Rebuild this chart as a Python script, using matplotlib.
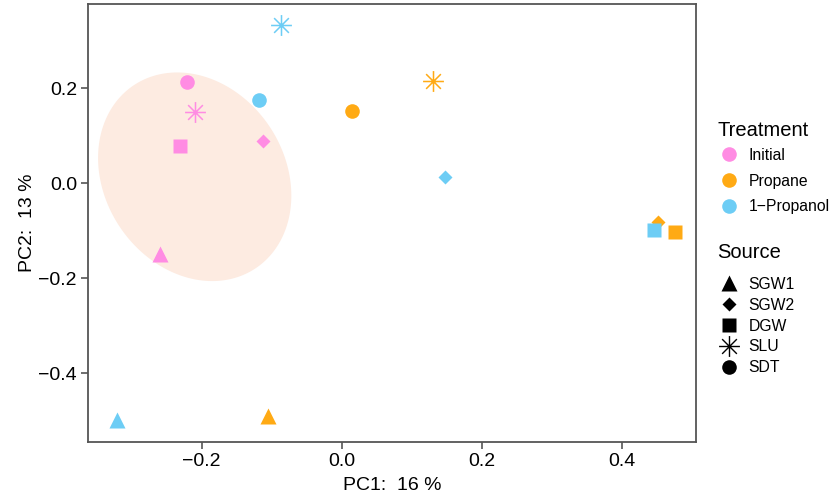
import numpy as np
import matplotlib
matplotlib.use("Agg")
import matplotlib.pyplot as plt
from matplotlib.path import Path
from matplotlib.lines import Line2D

plt.rcParams['font.family'] = ['Liberation Sans', 'DejaVu Sans']

# ---- data ----
treatments = ["Initial", "Propane", "1\u2212Propanol"]
sources = ["SGW1", "SGW2", "DGW", "SLU", "SDT"]

sample_treatment = ["Initial"] * 5 + ["Propane"] * 5 + ["1\u2212Propanol"] * 5
sample_source = ["SDT", "SLU", "DGW", "SGW2", "SGW1",
                 "SLU", "SDT", "SGW2", "DGW", "SGW1",
                 "SLU", "SDT", "SGW2", "DGW", "SGW1"]
pc1 = [-0.221, -0.209, -0.231, -0.112, -0.259,
       0.131, 0.015, 0.452, 0.476, -0.105,
       -0.087, -0.118, 0.148, 0.446, -0.321]
pc2 = [0.212, 0.149, 0.079, 0.088, -0.148,
       0.214, 0.152, -0.081, -0.102, -0.490,
       0.333, 0.175, 0.012, -0.098, -0.498]

# ellipse (stat_ellipse-like region), centre / semi-axes along x,y / phase
ell_center = (-0.21, 0.0135)
ell_ax = (0.138, 0.2195)
ell_cosphi = -0.181

# ---- styles ----
colors = {"Initial": "#FF8CE3", "Propane": "#FFAA14", "1\u2212Propanol": "#6DCDF5"}

ast_verts, ast_codes = [], []
for ang in np.deg2rad([0, 45, 90, 135]):
    ast_verts += [(-np.cos(ang), -np.sin(ang)), (np.cos(ang), np.sin(ang))]
    ast_codes += [Path.MOVETO, Path.LINETO]
asterisk = Path(ast_verts, ast_codes)

shapes = {"SGW1": dict(marker="^", ms=12),
          "SGW2": dict(marker="D", ms=7.5),
          "DGW": dict(marker="s", ms=10),
          "SLU": dict(marker=asterisk, ms=15),
          "SDT": dict(marker="o", ms=10.5)}

fig = plt.figure(figsize=(8.36, 4.98), dpi=100)
ax = fig.add_axes([88 / 836, 1 - 441.5 / 498, (696 - 88) / 836, (441.5 - 4.5) / 498])

# ellipse
t = np.linspace(0, 2 * np.pi, 400)
phi = np.arccos(ell_cosphi)
ex = ell_center[0] + ell_ax[0] * np.cos(t)
ey = ell_center[1] + ell_ax[1] * np.cos(t + phi)
ax.fill(ex, ey, color="#FDEBE1", lw=0, zorder=1)

for x, y, tr, so in zip(pc1, pc2, sample_treatment, sample_source):
    st = shapes[so]
    c = colors[tr]
    if so == "SLU":
        ax.plot([x], [y], linestyle="none", marker=st["marker"], ms=st["ms"],
                mec=c, mfc="none", mew=1.1, zorder=3)
    else:
        ax.plot([x], [y], linestyle="none", marker=st["marker"], ms=st["ms"],
                mec="none", mfc=c, zorder=3)

ax.set_xlim(-0.3624, 0.506)
ax.set_ylim(-0.5436, 0.376)
ax.set_xticks([-0.2, 0.0, 0.2, 0.4])
ax.set_yticks([-0.4, -0.2, 0.0, 0.2])
fmt = matplotlib.ticker.FuncFormatter(lambda v, p: f"{v:.1f}".replace("-", "\u2212"))
ax.xaxis.set_major_formatter(fmt)
ax.yaxis.set_major_formatter(fmt)
for sp in ax.spines.values():
    sp.set_color("#555555")
    sp.set_linewidth(1.3)
ax.tick_params(axis="both", colors="#555555", length=5, width=1.2, labelsize=14,
               labelcolor="black", pad=3)
ax.set_xlabel("PC1:  16 %", fontsize=14, labelpad=5)
ax.set_ylabel("PC2:  13 %", fontsize=14, labelpad=1.5)

# legends
legx = 720 / 836
fig.text(717 / 836, 1 - 130 / 498, "Treatment", fontsize=14.5, ha="left", va="center")
h1 = [Line2D([], [], linestyle="none", marker="o", ms=10.5, mfc=colors[tname], mec="none")
      for tname in treatments]
leg1 = fig.legend(h1, treatments, loc="center left",
                  bbox_to_anchor=(legx, 1 - 181 / 498), frameon=False,
                  fontsize=11.3, labelspacing=0.68,
                  handlelength=1.2, handletextpad=0.6,
                  borderaxespad=0, borderpad=0)

fig.text(717 / 836, 1 - 253 / 498, "Source", fontsize=14.5, ha="left", va="center")
h2 = []
for so in sources:
    st = shapes[so]
    if so == "SLU":
        h2.append(Line2D([], [], linestyle="none", marker=st["marker"], ms=st["ms"],
                         mec="black", mfc="none", mew=1.0))
    else:
        h2.append(Line2D([], [], linestyle="none", marker=st["marker"], ms=st["ms"],
                         mfc="black", mec="none"))
leg2 = fig.legend(h2, sources, loc="center left",
                  bbox_to_anchor=(legx, 1 - 326 / 498), frameon=False,
                  fontsize=11.3, labelspacing=0.38,
                  handlelength=1.2, handletextpad=0.6,
                  borderaxespad=0, borderpad=0)

fig.savefig("out.png", dpi=100)
